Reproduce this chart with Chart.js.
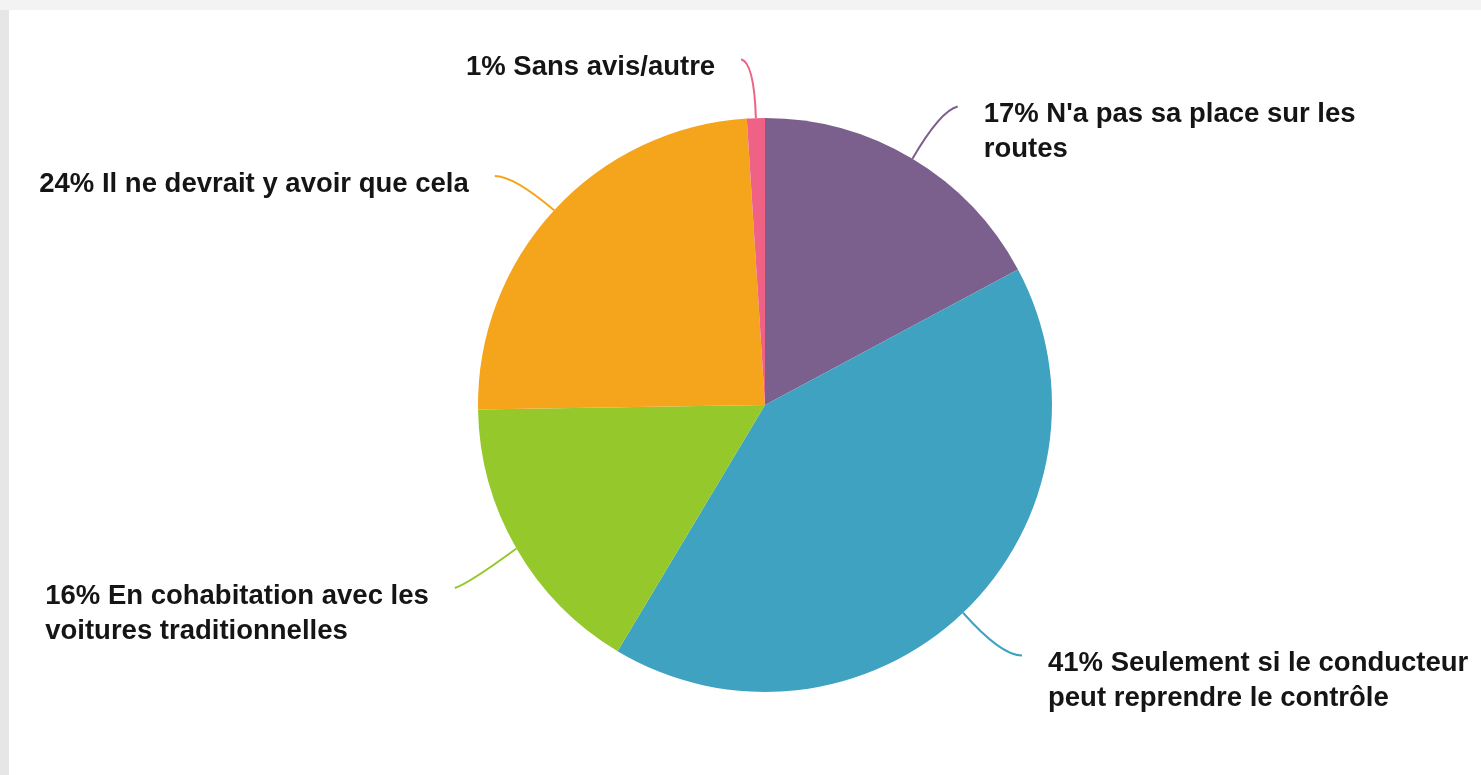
<!DOCTYPE html>
<html>
<head>
<meta charset="utf-8">
<script src="https://cdn.jsdelivr.net/npm/chart.js@4/dist/chart.umd.min.js"></script>
<style>
    html, body { margin: 0; padding: 0; background: #f3f3f3; }
    body { width: 1481px; height: 775px; position: relative; overflow: hidden; }
    #panel { position: absolute; left: 9px; top: 10px; width: 1472px; height: 765px; background: #ffffff; }
    #panel::before { content: ""; position: absolute; left: -9px; top: 0; width: 9px; height: 765px; background: #e6e6e6; }
</style>
</head>
<body>
<div id="panel"><canvas id="pieChart" width="1472" height="765"></canvas></div>
<script>
// Données
const categories = [
    ["17% N'a pas sa place sur les", "routes"],
    ["41% Seulement si le conducteur", "peut reprendre le contrôle"],
    ["16% En cohabitation avec les", "voitures traditionnelles"],
    ["24% Il ne devrait y avoir que cela"],
    ["1% Sans avis/autre"]
];
const values = [17, 41, 16, 24, 1];
const colors = ["#7b5f8d", "#40a2c1", "#95c82a", "#f5a51b", "#ef6185"];

const FONT = 'bold 27.5px "Liberation Sans", Arial, sans-serif';
const LINE_H = 35;
// petits décalages du bout des traits de rappel (mise en page des étiquettes)
const endNudge = [[1, -2], [5, 6], [2, 15], [-3, 6], [3, -1]];

// Étiquettes extérieures avec traits de rappel courbes
const leaderLabels = {
    id: "leaderLabels",
    afterDraw(chart) {
        const ctx = chart.ctx;
        const meta = chart.getDatasetMeta(0);
        ctx.save();
        meta.data.forEach((arc, i) => {
            const p = arc.getProps(["x", "y", "startAngle", "endAngle", "outerRadius"], true);
            const mid = (p.startAngle + p.endAngle) / 2;
            const dx = Math.cos(mid), dy = Math.sin(mid);
            const sx = p.x + p.outerRadius * dx, sy = p.y + p.outerRadius * dy;
            const cx = p.x + (p.outerRadius + 55) * dx, cy = p.y + (p.outerRadius + 55) * dy;
            const side = dx >= 0 ? 1 : -1;
            const ex = cx + side * 16 + endNudge[i][0], ey = cy - 3 + endNudge[i][1];

            ctx.strokeStyle = colors[i];
            ctx.lineWidth = 2;
            ctx.beginPath();
            ctx.moveTo(sx, sy);
            ctx.quadraticCurveTo(cx, cy + endNudge[i][1] * 0.5, ex, ey);
            ctx.stroke();

            ctx.font = FONT;
            ctx.fillStyle = "#151515";
            ctx.textBaseline = "middle";
            ctx.textAlign = "left";
            const lines = categories[i];
            const w = Math.max(...lines.map(t => ctx.measureText(t).width));
            const tx = side > 0 ? ex + 26 : ex - 26 - w;
            lines.forEach((t, k) => ctx.fillText(t, tx, ey + 8 + k * LINE_H));
        });
        ctx.restore();
    }
};

let ctx = document.getElementById("pieChart").getContext("2d");
let pieChart = new Chart(ctx, {
    type: "pie",
    data: {
        labels: categories.map(c => c.join(" ")),
        datasets: [{
            data: values,
            backgroundColor: colors,
            borderWidth: 0
        }]
    },
    options: {
        responsive: false,
        animation: false,
        layout: { padding: { top: 108, bottom: 83, left: 469, right: 429 } },
        plugins: {
            legend: { display: false },
            tooltip: { enabled: false }
        }
    },
    plugins: [leaderLabels]
});
</script>
</body>
</html>
